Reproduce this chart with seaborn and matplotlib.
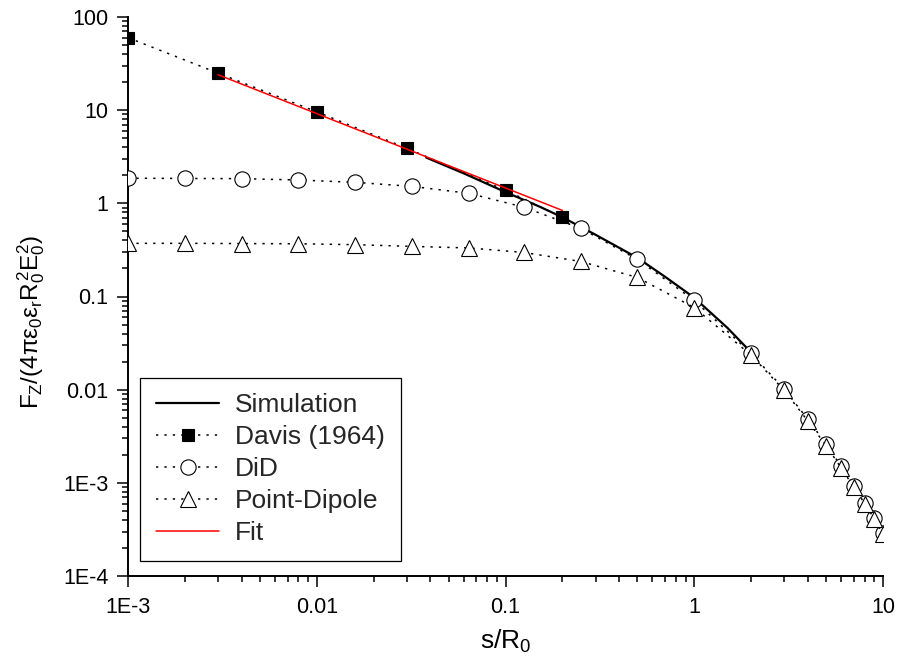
import matplotlib
matplotlib.use("Agg")
import matplotlib.pyplot as plt
from matplotlib.ticker import LogLocator, NullFormatter
import seaborn as sns

# values (log-log)
sim_x = [0.038, 0.06, 0.1, 0.15, 0.2, 0.3, 0.5, 0.7, 1, 1.5, 1.9]
sim_y = [3.1, 2.1, 1.32, 0.93, 0.71, 0.46, 0.26, 0.163, 0.097, 0.046, 0.028]

davis_x = [0.001, 0.003, 0.01, 0.03, 0.1, 0.2]
davis_y = [60, 25, 9.6, 3.9, 1.38, 0.71]

sep_x = [0.001, 0.002, 0.004, 0.008, 0.016, 0.032, 0.064, 0.125, 0.25, 0.5,
         1, 2, 3, 4, 5, 6, 7, 8, 9, 10]
did_y = [1.86, 1.85, 1.84, 1.78, 1.68, 1.52, 1.28, 0.91, 0.54, 0.25,
         0.091, 0.0245, 0.0101, 0.0048, 0.0026, 0.0015, 0.00093, 0.00061, 0.00042, 0.00029]
dipole_y = [0.372, 0.372, 0.37, 0.368, 0.36, 0.345, 0.332, 0.297, 0.238, 0.16,
            0.076, 0.0235, 0.0098, 0.0046, 0.0025, 0.00145, 0.0009, 0.0006, 0.00041, 0.00028]

fit_x = [0.003, 0.2]
fit_y = [24, 0.84]

x_ticks = [1e-3, 0.01, 0.1, 1, 10]
x_labels = ["1E-3", "0.01", "0.1", "1", "10"]
y_ticks = [1e-4, 1e-3, 0.01, 0.1, 1, 10, 100]
y_labels = ["1E-4", "1E-3", "0.01", "0.1", "1", "10", "100"]

sns.set_theme(style="ticks")
plt.rcParams["font.family"] = ["Liberation Sans", "DejaVu Sans"]
plt.rcParams["mathtext.fontset"] = "custom"
plt.rcParams["mathtext.rm"] = "Liberation Sans"
plt.rcParams["mathtext.it"] = "Liberation Sans"
plt.rcParams["mathtext.bf"] = "Liberation Sans:bold"

fig = plt.figure(figsize=(8.98, 6.64), dpi=100)
ax = fig.add_axes([128 / 898, 1 - 576 / 664, (883 - 128) / 898, (576 - 17) / 664])
ax.set_xscale("log")
ax.set_yscale("log")

dots = (0, (1.5, 4))

sns.lineplot(x=sim_x, y=sim_y, ax=ax, estimator=None, sort=False,
             color="black", linewidth=1.6, label="Simulation", zorder=2)
sns.lineplot(x=davis_x, y=davis_y, ax=ax, estimator=None, sort=False,
             color="black", linewidth=1.1, linestyle=dots, marker="s",
             markersize=8.6, markerfacecolor="black", markeredgecolor="black",
             markeredgewidth=0.8, label="Davis (1964)", zorder=3)
sns.lineplot(x=sep_x, y=did_y, ax=ax, estimator=None, sort=False,
             color="black", linewidth=1.1, linestyle=dots, marker="o",
             markersize=11, markerfacecolor="white", markeredgecolor="black",
             markeredgewidth=0.8, label="DiD", zorder=3)
sns.lineplot(x=sep_x, y=dipole_y, ax=ax, estimator=None, sort=False,
             color="black", linewidth=1.1, linestyle=dots, marker="^",
             markersize=11, markerfacecolor="white", markeredgecolor="black",
             markeredgewidth=0.8, label="Point-Dipole", zorder=3)
sns.lineplot(x=fit_x, y=fit_y, ax=ax, estimator=None, sort=False,
             color="red", linewidth=1.1, label="Fit", zorder=4)

ax.set_xlim(1e-3, 10)
ax.set_ylim(1e-4, 100)
ax.set_xticks(x_ticks, x_labels)
ax.set_yticks(y_ticks, y_labels)
ax.xaxis.set_minor_locator(LogLocator(base=10, subs=range(2, 10), numticks=20))
ax.yaxis.set_minor_locator(LogLocator(base=10, subs=range(2, 10), numticks=20))
ax.xaxis.set_minor_formatter(NullFormatter())
ax.yaxis.set_minor_formatter(NullFormatter())

for side in ["top", "right"]:
    ax.spines[side].set_visible(False)
for side in ["left", "bottom"]:
    ax.spines[side].set_linewidth(1.4)
    ax.spines[side].set_color("black")

ax.tick_params(which="major", direction="out", length=8, width=1.1,
               color="black", labelsize=15.5, labelcolor="black")
ax.tick_params(axis="x", which="major", pad=7)
ax.tick_params(axis="y", which="major", pad=6)
ax.tick_params(which="minor", direction="out", length=4.5, width=1.1, color="black")
ax.grid(False)

ax.set_xlabel(r"s/R$_0$", fontsize=19, color="black")
ax.set_ylabel(r"$F_Z/(4\pi\varepsilon_0\varepsilon_r R_0^2 E_0^2)$", fontsize=17.5, color="black")
ax.xaxis.set_label_coords(0.5, -0.093)
ax.xaxis.label.set_va("top")
ax.yaxis.set_label_coords(-0.107, 0.454)

leg = ax.legend(loc="lower left", bbox_to_anchor=(0.016, 0.027), borderaxespad=0,
                fontsize=19, frameon=True, fancybox=False, framealpha=1,
                edgecolor="black", handlelength=2.4, handletextpad=0.6,
                labelspacing=0.3, borderpad=0.6, numpoints=1)
leg.get_frame().set_linewidth(0.9)

fig.savefig("out.png", dpi=100)
